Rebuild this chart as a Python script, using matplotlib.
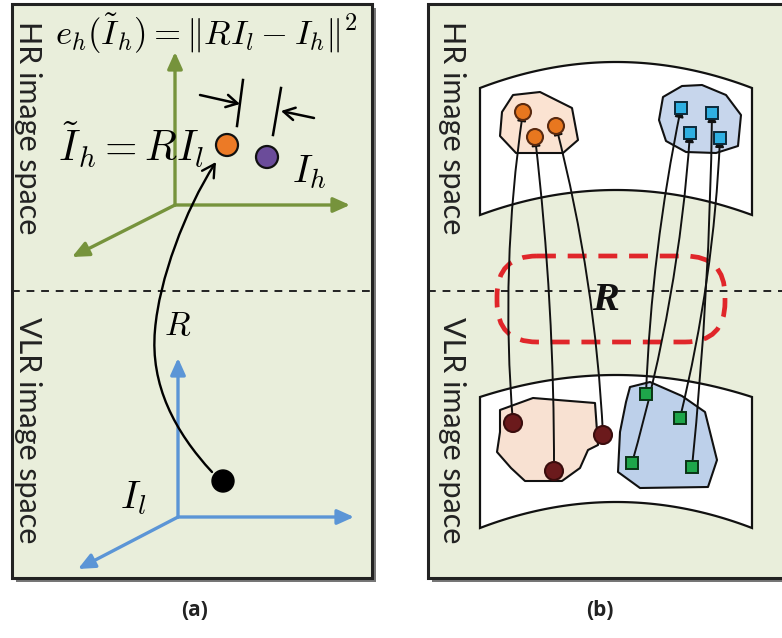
import matplotlib
matplotlib.use("Agg")
import matplotlib.pyplot as plt
from matplotlib.patches import Rectangle, Circle, Polygon, FancyArrowPatch, FancyBboxPatch
from matplotlib.path import Path
import numpy as np

plt.rcParams['mathtext.fontset'] = 'cm'

# ---- data (pixel-space diagram) ----
panel_labels = ["(a)", "(b)"]
space_labels = ["HR image space", "VLR image space"]
hr_point_colors = ["#ec7a26", "#6b4c9a"]
orange_hr = [(523, 112), (535, 137), (556, 126)]
blue_hr = [(681, 108), (712, 113), (690, 133), (720, 138)]
brown_vlr = [(513, 423), (554, 471), (603, 435)]
green_vlr = [(646, 394), (680, 418), (632, 463), (692, 467)]
# mapping: (vlr index, hr index)
orange_map = [(0, 0), (1, 1), (2, 2)]
blue_map = [(0, 0), (2, 2), (1, 3), (3, 1)]

BG = "#e9eedb"

fig = plt.figure(figsize=(7.82, 6.38), dpi=100)
ax = fig.add_axes([0, 0, 1, 1])
ax.set_xlim(0, 782)
ax.set_ylim(638, 0)
ax.axis("off")

def panel(x0, y0, x1, y1):
    ax.add_patch(Rectangle((x0 + 4, y0 + 4), x1 - x0, y1 - y0, fc="#777777", ec="none", zorder=0))
    ax.add_patch(Rectangle((x0, y0), x1 - x0, y1 - y0, fc=BG, ec="#222222", lw=2.2, zorder=1))
    ax.plot([x0, x1], [291, 291], ls=(0, (4, 3.5)), color="#222222", lw=1.4, zorder=2)

panel(12, 4, 372, 578)
panel(428, 4, 800, 578)

for xc in (28, 452):
    ax.text(xc, 128, space_labels[0], rotation=-90, ha="center", va="center", fontsize=22,
            family="Lato", color="#222222", zorder=5)
    ax.text(xc, 430, space_labels[1], rotation=-90, ha="center", va="center", fontsize=22,
            family="Lato", color="#222222", zorder=5)

ax.text(195, 610, panel_labels[0], ha="center", va="center", fontsize=15, fontweight="bold",
        family="Open Sans", color="#222222")
ax.text(600, 610, panel_labels[1], ha="center", va="center", fontsize=15, fontweight="bold",
        family="Open Sans", color="#222222")

# ---- panel (a) ----
def axes3(o, up, right, diag, color):
    for tip in (up, right, diag):
        ax.annotate("", xy=tip, xytext=o,
                    arrowprops=dict(arrowstyle="-|>,head_length=1.0,head_width=0.45",
                                    color=color, lw=2.4, shrinkA=0, shrinkB=0), zorder=3)

axes3((175, 205), (175, 52), (350, 205), (72, 257), "#76933c")
axes3((178, 517), (178, 358), (354, 517), (78, 569), "#5b95d6")

ax.add_patch(Circle((227, 145), 11, fc=hr_point_colors[0], ec="#111111", lw=1.6, zorder=4))
ax.add_patch(Circle((267, 157), 11, fc=hr_point_colors[1], ec="#111111", lw=1.6, zorder=4))
ax.add_patch(Circle((223, 481), 11, fc="#000000", ec="#000000", lw=1, zorder=4))

# curved mapping R
verts = [(212, 472), (175, 432), (150, 385), (155, 330),
         (159, 280), (185, 210), (216, 162)]
codes = [Path.MOVETO, Path.CURVE4, Path.CURVE4, Path.CURVE4,
         Path.CURVE4, Path.CURVE4, Path.CURVE4]
curve = FancyArrowPatch(path=Path(verts, codes),
                        arrowstyle="->,head_length=9,head_width=5", color="#000000", lw=1.7, zorder=4)
ax.add_patch(curve)

# distance markers
ax.plot([243, 237], [80, 126], color="#000000", lw=1.8, zorder=4)
ax.plot([281, 273], [88, 135], color="#000000", lw=1.8, zorder=4)
ax.annotate("", xy=(240, 104), xytext=(200, 95),
            arrowprops=dict(arrowstyle="->,head_length=0.8,head_width=0.45", lw=1.8, color="#000", shrinkA=0, shrinkB=0))
ax.annotate("", xy=(281, 111), xytext=(314, 118),
            arrowprops=dict(arrowstyle="->,head_length=0.8,head_width=0.45", lw=1.8, color="#000", shrinkA=0, shrinkB=0))

ax.text(55, 34, r"$e_h(\tilde{I}_h) = \|RI_l - I_h\|^2$", ha="left", va="center", fontsize=25, zorder=5)
ax.text(58, 145, r"$\tilde{I}_h = RI_l$", ha="left", va="center", fontsize=30, zorder=5)
ax.text(292, 172, r"$I_h$", ha="left", va="center", fontsize=28, zorder=5)
ax.text(164, 326, r"$R$", ha="left", va="center", fontsize=24, zorder=5)
ax.text(120, 498, r"$I_l$", ha="left", va="center", fontsize=28, zorder=5)

# ---- panel (b) ----
def band(xl, xr, ytop_edge, ytop_mid, ybot_edge, ybot_mid):
    xs = np.linspace(xl, xr, 60)
    t = (xs - (xl + xr) / 2) / ((xr - xl) / 2)
    top = ytop_mid + (ytop_edge - ytop_mid) * t ** 2
    bot = ybot_mid + (ybot_edge - ybot_mid) * t ** 2
    pts = np.vstack([np.column_stack([xs, top]), np.column_stack([xs[::-1], bot[::-1]])])
    ax.add_patch(Polygon(pts, closed=True, fc="white", ec="#111111", lw=1.6, zorder=2))

band(480, 752, 88, 62, 215, 190)
band(480, 752, 397, 375, 528, 502)

def blob(pts, fc):
    ax.add_patch(Polygon(pts, closed=True, fc=fc, ec="#111111", lw=1.5, joinstyle="round", zorder=3))

blob([(513, 95), (540, 92), (572, 108), (578, 140), (563, 153), (516, 153), (500, 136), (502, 112)], "#fbe3d2")
blob([(663, 97), (682, 86), (702, 85), (726, 95), (741, 115), (738, 146), (716, 153), (686, 152), (666, 141), (659, 120)], "#c7d6ec")
blob([(500, 410), (533, 398), (595, 403), (598, 445), (588, 450), (580, 468), (562, 481), (525, 481), (511, 468), (497, 452), (500, 432)], "#f8e1d2")
blob([(630, 387), (650, 382), (682, 396), (705, 412), (717, 460), (708, 487), (640, 488), (618, 472), (620, 432), (626, 402)], "#bdd0ea")

# red dashed R region
ax.add_patch(FancyBboxPatch((497, 256), 228, 86, boxstyle="round,pad=0,rounding_size=40",
                            fc="none", ec="#e0262a", lw=3.4, ls=(0, (4, 2.5)), zorder=3))
ax.text(606, 301, "R", ha="center", va="center", fontsize=29, fontweight="bold", fontstyle="italic",
        family="Liberation Serif", color="#111111", zorder=6)

# connecting arrows (drawn before markers)
def connect(p0, p1, bend):
    mid = ((p0[0] + p1[0]) / 2 + bend, (p0[1] + p1[1]) / 2)
    path = Path([p0, mid, p1], [Path.MOVETO, Path.CURVE3, Path.CURVE3])
    ax.add_patch(FancyArrowPatch(path=path, arrowstyle="-|>,head_length=5,head_width=2.5",
                                 color="#111111", lw=1.4, shrinkB=8, zorder=4))

for vi, hi in orange_map:
    connect(brown_vlr[vi], orange_hr[hi], [-18, 10, 16][vi])
for vi, hi in blue_map:
    connect(green_vlr[vi], blue_hr[hi], [-12, 14, 18, 8][vi])

for (x, y) in orange_hr:
    ax.add_patch(Circle((x, y), 8, fc="#e8771f", ec="#5a2a10", lw=1.5, zorder=5))
for (x, y) in brown_vlr:
    ax.add_patch(Circle((x, y), 9, fc="#6b1a1c", ec="#3a0d0d", lw=1.5, zorder=5))
for (x, y) in blue_hr:
    ax.add_patch(Rectangle((x - 6, y - 6), 12, 12, fc="#2fb0e2", ec="#0d2a3a", lw=1.4, zorder=5))
for (x, y) in green_vlr:
    ax.add_patch(Rectangle((x - 6, y - 6), 12, 12, fc="#1ea64a", ec="#0a3315", lw=1.4, zorder=5))

fig.savefig("out.png", dpi=100, facecolor="white")
